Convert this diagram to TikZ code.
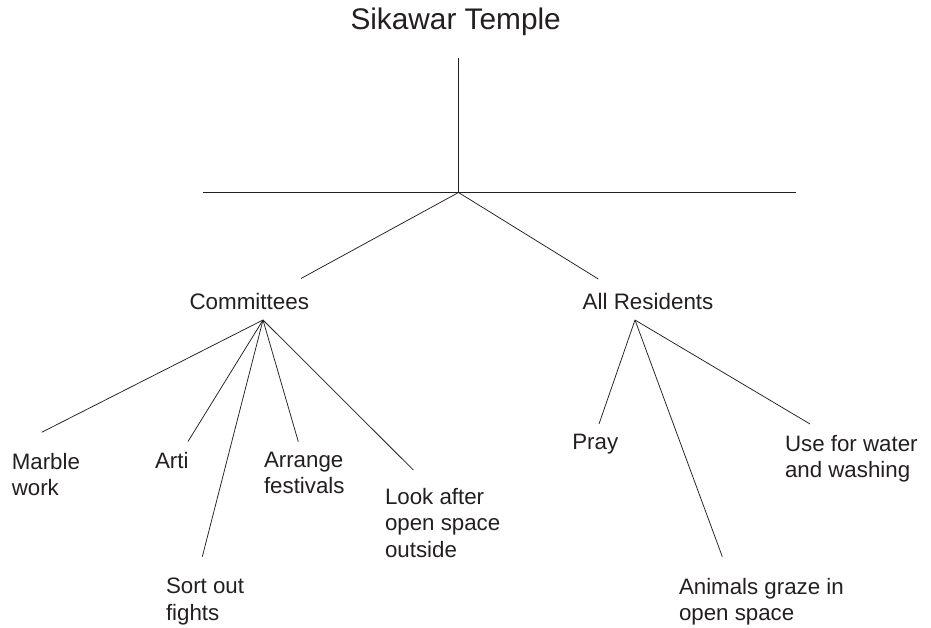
\documentclass[tikz,border=0pt]{standalone}
\usepackage{fontspec}
\setmainfont{Liberation Sans}
\definecolor{ink}{HTML}{231F20}
\begin{document}
\begin{tikzpicture}[x=1pt,y=-1pt,
  every node/.style={inner sep=0pt,outer sep=0pt,text=ink},
  title/.style={font={\fontsize{29.8}{35}\selectfont},anchor=base west},
  head/.style={font={\fontsize{22.4}{26.3}\selectfont},anchor=base west},
  leaf/.style={font={\fontsize{22.3}{26.3}\selectfont},anchor=north west,align=left},
  link/.style={draw=ink,line width=0.75pt}]
\useasboundingbox (0,0) rectangle (931,628);

% headings
\node[title] (temple) at (350.5,29.3) {Sikawar Temple};
\node[head] (comm) at (189.5,309) {Committees};
\node[head] (res) at (582.7,309) {All Residents};

% committee activities
\node[leaf] (marble) at (11.8,453.3) {Marble\\work};
\node[leaf] (arti) at (155,452) {Arti};
\node[leaf] (arrange) at (264,452) {Arrange\\festivals};
\node[leaf] (look) at (385,488.3) {Look after\\open space\\outside};
\node[leaf] (sort) at (166,578.3) {Sort out\\fights};

% residents' uses
\node[leaf] (pray) at (572.3,434.5) {Pray};
\node[leaf] (water) at (785,435) {Use for water\\and washing};
\node[leaf] (graze) at (679,578.3) {Animals graze in\\open space};

% junction points of the tree
\coordinate (top) at (458.5,57.7);
\coordinate (hub) at (458.5,192.5);
\coordinate (barL) at (203,192.5);
\coordinate (barR) at (796,192.5);
\coordinate (commIn) at (301,278.5);
\coordinate (resIn) at (598.3,279);
\coordinate (commHub) at (263,320);
\coordinate (resHub) at (635,320);

\coordinate (marbleIn) at (41.7,432.3);
\coordinate (artiIn) at (188,441.5);
\coordinate (sortIn) at (202.3,556.7);
\coordinate (arrangeIn) at (298.3,441.7);
\coordinate (lookIn) at (413.3,470);
\coordinate (prayIn) at (599,424);
\coordinate (grazeIn) at (722.3,556.7);
\coordinate (waterIn) at (810,424);

% connectors
\draw[link] (top) -- (hub);
\draw[link] (barL) -- (barR);
\draw[link] (commIn) -- (hub) -- (resIn);
\foreach \leafpt in {marbleIn,artiIn,sortIn,arrangeIn,lookIn}
  \draw[link] (commHub) -- (\leafpt);
\foreach \leafpt in {prayIn,grazeIn,waterIn}
  \draw[link] (resHub) -- (\leafpt);
\end{tikzpicture}
\end{document}
